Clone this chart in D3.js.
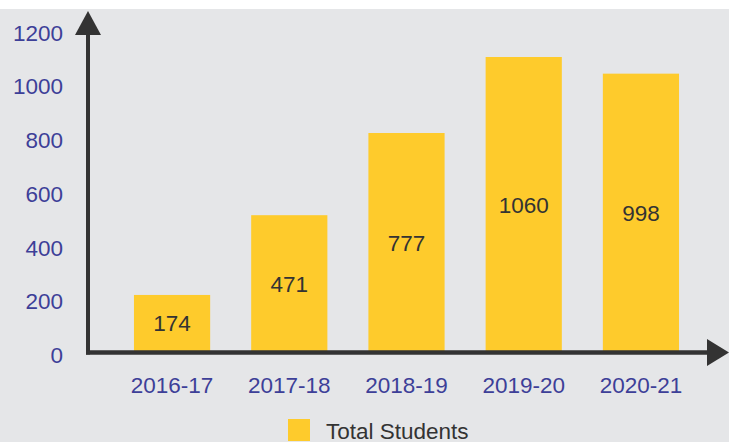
<!DOCTYPE html>
<html>
<head>
<meta charset="utf-8">
<script src="https://cdn.jsdelivr.net/npm/d3@7"></script>
<style>
  body { margin: 0; background: #fff; }
  svg { display: block; font-family: "Liberation Sans", Arial, sans-serif; }
</style>
</head>
<body>
<div id="chart"></div>
<script>
var years = ["2016-17", "2017-18", "2018-19", "2019-20", "2020-21"];
var students = [174, 471, 777, 1060, 998];
var yTicks = [0, 200, 400, 600, 800, 1000, 1200];
var seriesName = "Total Students";

var width = 729;
var height = 442;
var axisX = 88;
var axisY = 352.5;

var canvas = d3.select("#chart")
    .append("svg")
    .attr("width", width)
    .attr("height", height)

canvas.append("rect")
    .attr("width", width)
    .attr("height", height)
    .attr("fill", "white")

canvas.append("rect")
    .attr("y", 9)
    .attr("width", width)
    .attr("height", height - 9)
    .attr("fill", "#e5e6e8")

var xScale = d3.scaleBand().domain(years).range([90, 723]).paddingInner(0.35).paddingOuter(0.375)
// bars sit a little above the labelled zero in the original, so labels are offset below
var yScale = d3.scaleLinear().domain([0, 1200]).range([341.7, 19.4])
var labelShift = 13.8;

var barBase = 351;

canvas.selectAll(".bar")
    .data(students)
    .enter().append("rect")
    .attr("class", "bar")
    .attr("x", function(d, i) { return xScale(years[i]); })
    .attr("y", function(d) { return yScale(d); })
    .attr("width", xScale.bandwidth())
    .attr("height", function(d) { return barBase - yScale(d); })
    .attr("fill", "#fecb2c")

canvas.selectAll(".barLabel")
    .data(students)
    .enter().append("text")
    .attr("class", "barLabel")
    .attr("x", function(d, i) { return xScale(years[i]) + xScale.bandwidth() / 2; })
    .attr("y", function(d) { return (yScale(d) + barBase) / 2 + 1; })
    .attr("text-anchor", "middle")
    .attr("dominant-baseline", "central")
    .attr("font-size", "22.5px")
    .attr("fill", "#333333")
    .text(function(d) { return d; })

// y tick labels
canvas.selectAll(".yTick")
    .data(yTicks)
    .enter().append("text")
    .attr("class", "yTick")
    .attr("x", 63)
    .attr("y", function(d) { return yScale(d) + labelShift; })
    .attr("text-anchor", "end")
    .attr("dominant-baseline", "central")
    .attr("font-size", "22.5px")
    .attr("fill", "#3d3f98")
    .text(function(d) { return d; })

// x tick labels
canvas.selectAll(".xTick")
    .data(years)
    .enter().append("text")
    .attr("class", "xTick")
    .attr("x", function(d) { return xScale(d) + xScale.bandwidth() / 2; })
    .attr("y", 385)
    .attr("text-anchor", "middle")
    .attr("dominant-baseline", "central")
    .attr("font-size", "22.5px")
    .attr("fill", "#3d3f98")
    .text(function(d) { return d; })

// axes with arrows
var axisColor = "#333333";
canvas.append("line")
    .attr("x1", axisX).attr("y1", axisY + 2)
    .attr("x2", axisX).attr("y2", 30)
    .style("stroke", axisColor)
    .style("stroke-width", 4)

canvas.append("line")
    .attr("x1", axisX - 2).attr("y1", axisY)
    .attr("x2", 712).attr("y2", axisY)
    .style("stroke", axisColor)
    .style("stroke-width", 4.5)

canvas.append("path")
    .attr("d", "M" + (axisX - 13) + ",35 L" + axisX + ",11 L" + (axisX + 13) + ",35 Z")
    .attr("fill", axisColor)

canvas.append("path")
    .attr("d", "M707," + (axisY - 13.5) + " L729," + axisY + " L707," + (axisY + 13.5) + " Z")
    .attr("fill", axisColor)

// legend
canvas.append("rect")
    .attr("x", 288)
    .attr("y", 419)
    .attr("width", 22)
    .attr("height", 22)
    .attr("fill", "#fecb2c")

canvas.append("text")
    .attr("x", 326)
    .attr("y", 431)
    .attr("dominant-baseline", "central")
    .attr("font-size", "22.5px")
    .attr("fill", "#333333")
    .text(seriesName)
</script>
</body>
</html>
